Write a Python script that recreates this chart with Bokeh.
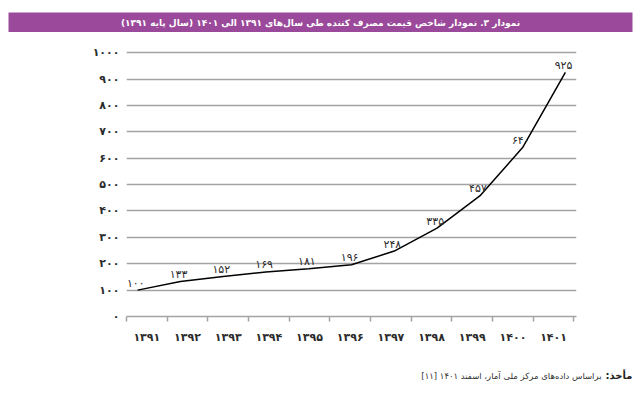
import numpy as np
from bokeh.plotting import figure
from bokeh.layouts import column
from bokeh.models import Range1d, FixedTicker, CustomJSTickFormatter, ColumnDataSource
from bokeh.core.properties import value
from bokeh.embed import file_html
from bokeh.resources import INLINE

# ---------------- data ----------------
years = ["۱۳۹۱", "۱۳۹۲", "۱۳۹۳", "۱۳۹۴", "۱۳۹۵", "۱۳۹۶",
         "۱۳۹۷", "۱۳۹۸", "۱۳۹۹", "۱۴۰۰", "۱۴۰۱"]
cpi = [100, 133, 152, 169, 181, 196, 248, 335, 457, 640, 925]
y_ticks = [0, 100, 200, 300, 400, 500, 600, 700, 800, 900, 1000]

to_fa = str.maketrans("0123456789", "۰۱۲۳۴۵۶۷۸۹")
cpi_labels = [str(v).translate(to_fa) for v in cpi]
y_tick_labels = [str(v).translate(to_fa) for v in y_ticks]

title_text = "نمودار ۳. نمودار شاخص قیمت مصرف کننده طی سال‌های ۱۳۹۱ الی ۱۴۰۱ (سال پایه ۱۳۹۱)"
source_head = "مأخذ:"
source_body = "براساس داده‌های مرکز ملی آمار، اسفند ۱۴۰۱ [۱۱]"

RLM = "\u200f"
FONT = "DejaVu Sans"
W = 640

# ---------------- title bar ----------------
head = figure(width=W, height=32, x_range=Range1d(0, 1), y_range=Range1d(0, 1),
              output_backend="svg", toolbar_location=None,
              x_axis_location=None, y_axis_location=None,
              min_border_top=12, min_border_bottom=0, min_border_left=8, min_border_right=8,
              background_fill_color="#9b4a9b", border_fill_color="white",
              outline_line_color=None, frame_align=False)
head.grid.visible = False
head.text(x=[0.5], y=[0.5], text=[RLM + title_text + RLM], text_align="center",
          text_baseline="middle", text_color="white", text_font=value(FONT),
          text_font_style="bold", text_font_size="9px")

# ---------------- main chart ----------------
idx = list(range(len(cpi)))
x_start, x_end = -0.26, 10.26
bounds = list(np.linspace(x_start, 10.2, len(years) + 1))
centers = [(bounds[i] + bounds[i + 1]) / 2 for i in range(len(years))]

p = figure(width=W, height=328, x_range=Range1d(x_start, x_end), y_range=Range1d(0, 1008),
           output_backend="svg", toolbar_location=None,
           min_border_left=126, min_border_right=64, min_border_top=18, min_border_bottom=44,
           outline_line_color=None, background_fill_color="white", border_fill_color="white",
           frame_align=False)

GRAY = "#a3a3a3"
p.xgrid.visible = False
p.ygrid.ticker = FixedTicker(ticks=y_ticks)
p.ygrid.grid_line_color = GRAY
p.ygrid.grid_line_width = 1.5

p.yaxis.ticker = FixedTicker(ticks=y_ticks)
p.yaxis.formatter = CustomJSTickFormatter(args=dict(labels=y_tick_labels, ticks_v=y_ticks),
                                          code="const i = ticks_v.indexOf(Math.round(tick)); return i >= 0 ? labels[i] : '';")
p.yaxis.axis_line_color = None
p.yaxis.major_tick_line_color = None
p.yaxis.minor_tick_line_color = None
p.yaxis.major_tick_out = 0
p.yaxis.minor_tick_out = 0
p.yaxis.major_label_standoff = 7
p.yaxis.major_label_text_font = FONT
p.yaxis.major_label_text_font_style = "bold"
p.yaxis.major_label_text_font_size = "11px"
p.yaxis.major_label_text_color = "#2b2b2b"

p.xaxis.ticker = FixedTicker(ticks=centers, minor_ticks=bounds)
p.xaxis.formatter = CustomJSTickFormatter(args=dict(labels=years),
                                          code="return labels[index];")
p.xaxis.axis_line_color = GRAY
p.xaxis.axis_line_width = 1.5
p.xaxis.major_tick_line_color = None
p.xaxis.major_tick_out = 0
p.xaxis.major_tick_in = 0
p.xaxis.minor_tick_line_color = GRAY
p.xaxis.minor_tick_line_width = 1.5
p.xaxis.minor_tick_in = 0
p.xaxis.minor_tick_out = 5
p.xaxis.major_label_standoff = 9
p.xaxis.major_label_text_font = FONT
p.xaxis.major_label_text_font_style = "bold"
p.xaxis.major_label_text_font_size = "11px"
p.xaxis.major_label_text_color = "#2b2b2b"

src = ColumnDataSource(dict(x=idx, y=cpi, lab=cpi_labels))
p.line("x", "y", source=src, line_color="black", line_width=1.5)
p.text("x", "y", text="lab", source=src, text_align="right", text_baseline="middle",
       x_offset=7, y_offset=-7, text_font=value(FONT), text_font_size="11px",
       text_color="#2b2b2b")

# ---------------- footer ----------------
foot = figure(width=W, height=33, x_range=Range1d(0, W), y_range=Range1d(0, 33),
              output_backend="svg", toolbar_location=None,
              x_axis_location=None, y_axis_location=None,
              min_border=0, outline_line_color=None,
              background_fill_color="white", border_fill_color="white",
              frame_align=False)
foot.grid.visible = False
foot.text(x=[632], y=[18], text=[RLM + source_head + RLM], text_align="right",
          text_baseline="middle", text_font=value(FONT), text_font_style="bold",
          text_font_size="10px", text_color="#222222")
foot.text(x=[601], y=[18], text=[RLM + source_body + RLM], text_align="right",
          text_baseline="middle", text_font=value(FONT), text_font_size="8.5px",
          text_color="#333333")

layout = column(head, p, foot, spacing=0)
open("out.html", "w").write(file_html(layout, INLINE))
